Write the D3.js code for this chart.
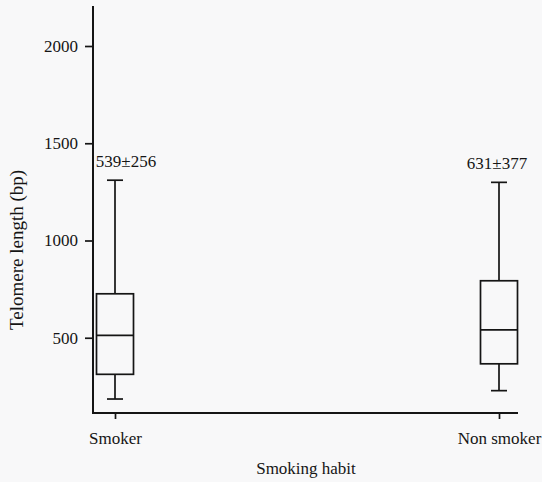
<!DOCTYPE html>
<html>
<head>
<meta charset="utf-8">
<script src="https://cdn.jsdelivr.net/npm/d3@7"></script>
<style>
  html, body { margin: 0; padding: 0; background: #f8f8f9; }
  svg { display: block; }
  svg text { fill: #151515; }
</style>
</head>
<body>
<svg id="chart" width="542" height="482"></svg>
<script>
const categories = ["Smoker", "Non smoker"];
const whiskerLow  = [185, 228];
const quartile1   = [312, 366];
const medians     = [512, 540];
const quartile3   = [726, 793];
const whiskerHigh = [1310, 1299];
const annotations = ["539±256", "631±377"];
const yTicks = [500, 1000, 1500, 2000];
const yAxisTitle = "Telomere length (bp)";
const xAxisTitle = "Smoking habit";

const svg = d3.select("#chart");
const ink = "#151515";
const fontFam = "'Liberation Serif', 'Times New Roman', Times, serif";
const fontSize = "17px";

const y = d3.scaleLinear().domain([0, 2000]).range([435, 46]);
const x = d3.scalePoint().domain(categories).range([115, 499]);

const axisX0 = 93, axisX1 = 518;
const axisYTopVal = 2206, axisYBotVal = 113;
const axisY = y(axisYBotVal);

// Y axis
const yAxis = d3.axisLeft(y).tickValues(yTicks).tickSize(8).tickPadding(7).tickFormat(d3.format("d"));
const gy = svg.append("g").attr("transform", `translate(${axisX0},0)`).call(yAxis)
  .attr("font-family", fontFam).attr("font-size", fontSize);
gy.select(".domain").remove();
gy.selectAll(".tick line").attr("stroke", ink).attr("stroke-width", 1.7);
gy.selectAll(".tick text").attr("fill", ink);
svg.append("line")
  .attr("x1", axisX0).attr("x2", axisX0)
  .attr("y1", y(axisYTopVal)).attr("y2", axisY + 1)
  .attr("stroke", ink).attr("stroke-width", 2);

// X axis
svg.append("line")
  .attr("x1", axisX0).attr("x2", axisX1)
  .attr("y1", axisY).attr("y2", axisY)
  .attr("stroke", ink).attr("stroke-width", 2);
const xAxis = d3.axisBottom(x).tickSize(6).tickPadding(13);
const gx = svg.append("g").attr("transform", `translate(0,${axisY})`).call(xAxis)
  .attr("font-family", fontFam).attr("font-size", fontSize);
gx.select(".domain").remove();
gx.selectAll(".tick line").attr("stroke", ink).attr("stroke-width", 1.7);
gx.selectAll(".tick text").attr("fill", ink);

// Boxes
const boxW = 37, capW = 16;
const data = categories.map((c, i) => ({
  c, lo: whiskerLow[i], q1: quartile1[i], med: medians[i], q3: quartile3[i], hi: whiskerHigh[i], label: annotations[i]
}));
const g = svg.append("g").attr("stroke", ink).attr("fill", "none").attr("stroke-width", 1.7);
data.forEach((d, i) => {
  const cx = x(d.c);
  g.append("line").attr("x1", cx).attr("x2", cx).attr("y1", y(d.hi)).attr("y2", y(d.q3));
  g.append("line").attr("x1", cx).attr("x2", cx).attr("y1", y(d.q1)).attr("y2", y(d.lo));
  g.append("line").attr("x1", cx - capW / 2).attr("x2", cx + capW / 2).attr("y1", y(d.hi)).attr("y2", y(d.hi));
  g.append("line").attr("x1", cx - capW / 2).attr("x2", cx + capW / 2).attr("y1", y(d.lo)).attr("y2", y(d.lo));
  g.append("rect").attr("x", cx - boxW / 2).attr("width", boxW)
    .attr("y", y(d.q3)).attr("height", y(d.q1) - y(d.q3));
  g.append("line").attr("x1", cx - boxW / 2).attr("x2", cx + boxW / 2).attr("y1", y(d.med)).attr("y2", y(d.med));
  svg.append("text")
    .attr("x", i === 0 ? cx + 11 : cx - 2)
    .attr("y", y(d.hi) - 13)
    .attr("text-anchor", "middle")
    .attr("font-family", fontFam).attr("font-size", fontSize)
    .text(d.label);
});

// Titles
svg.append("text").attr("x", 306).attr("y", 474).attr("text-anchor", "middle")
  .attr("font-family", fontFam).attr("font-size", fontSize).text(xAxisTitle);
svg.append("text").attr("transform", "translate(23,250) rotate(-90)").attr("text-anchor", "middle")
  .attr("font-family", fontFam).attr("font-size", "19px").text(yAxisTitle);
</script>
</body>
</html>
